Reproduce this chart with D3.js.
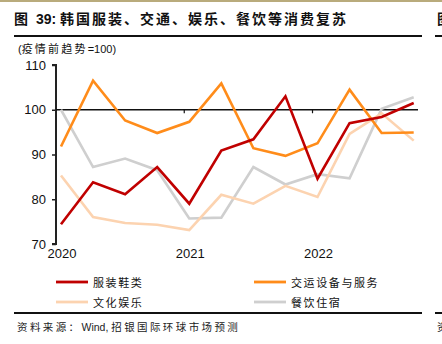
<!DOCTYPE html>
<html>
<head>
<meta charset="utf-8">
<script src="https://cdn.jsdelivr.net/npm/d3@7"></script>
<style>
  html, body { margin: 0; padding: 0; background: #fff; }
  svg { display: block; }
  text { font-family: "Liberation Sans", Arial, "Noto Sans CJK SC", sans-serif; }
</style>
</head>
<body>
<svg id="chart" width="442" height="344"></svg>
<script>
// Quarterly index values, pre-pandemic trend = 100 (2020Q1 .. 2022Q4)
const quarters = ["2020Q1","2020Q2","2020Q3","2020Q4","2021Q1","2021Q2","2021Q3","2021Q4","2022Q1","2022Q2","2022Q3","2022Q4"];
const apparel   = [74.4, 83.8, 81.1, 87.2, 79.0, 90.9, 93.4, 103.0, 84.6, 97.0, 98.4, 101.5];
const transport = [91.8, 106.5, 97.6, 94.8, 97.3, 105.9, 91.4, 89.7, 92.5, 104.5, 94.8, 94.9];
const culture   = [85.3, 76.0, 74.7, 74.3, 73.1, 81.0, 79.0, 83.0, 80.5, 94.6, 99.2, 93.1];
const dining    = [100.0, 87.2, 89.1, 86.5, 75.7, 75.9, 87.2, 83.3, 85.6, 84.7, 100.2, 102.8];
const yTicks = [70, 80, 90, 100, 110];
const yearLabels = ["2020", "2021", "2022"];
const yearStartIdx = [0, 4, 8];

const seriesNames = ["服装鞋类", "交运设备与服务", "文化娱乐", "餐饮住宿"];
const seriesColors = ["#c00000", "#ff8c1a", "#fcd3b0", "#cfcfcf"];
const seriesData = [apparel, transport, culture, dining];

const svg = d3.select("#chart");

// Writes a run of text pieces; CJK pieces get extra tracking, Latin pieces none
function spacedText(sel, parts, spacing) {
  parts.forEach(p => {
    sel.append("tspan").attr("letter-spacing", p.cjk ? spacing : 0).text(p.t);
  });
  return sel;
}

// Header band
svg.append("rect").attr("x", 0).attr("y", 0).attr("width", 442).attr("height", 2).attr("fill", "#b9ab7c");
spacedText(svg.append("text").attr("x", 14).attr("y", 24)
  .attr("font-size", 14).attr("font-weight", "bold").attr("fill", "#111"),
  [{t: "图 ", cjk: true}, {t: "39: ", cjk: false}, {t: "韩国服装、交通、娱乐、餐饮等消费复苏", cjk: true}], 2);
svg.append("rect").attr("x", 14).attr("y", 35).attr("width", 408).attr("height", 2).attr("fill", "#111");
svg.append("rect").attr("x", 435).attr("y", 35).attr("width", 7).attr("height", 2).attr("fill", "#111");
svg.append("text").attr("x", 437).attr("y", 24)
  .attr("font-size", 14).attr("font-weight", "bold").attr("fill", "#111").text("图");
spacedText(svg.append("text").attr("x", 18).attr("y", 53).attr("font-size", 11).attr("fill", "#111"),
  [{t: "(", cjk: false}, {t: "疫情前趋势", cjk: true}, {t: "=100)", cjk: false}], 2.2);

// Scales
const x = d3.scaleLinear().domain([0, 11]).range([61, 413.7]);
const y = d3.scaleLinear().domain([70, 110]).range([244, 65]);

// Y axis
const yAxis = d3.axisLeft(y).tickValues(yTicks).tickSize(4).tickPadding(6);
const gy = svg.append("g").attr("transform", "translate(56,0)").call(yAxis);
gy.select(".domain").attr("stroke", "#222").attr("stroke-width", 2).attr("d", `M-4,${y(110)}H0V${y(70)}H-4`);
gy.selectAll(".tick line").attr("stroke", "#222").attr("stroke-width", 1.5);
gy.selectAll(".tick text").attr("font-size", 13).attr("fill", "#111");

// Baseline at 100 with year ticks
svg.append("line").attr("x1", 56).attr("x2", 418).attr("y1", y(100)).attr("y2", y(100))
  .attr("stroke", "#111").attr("stroke-width", 1.5);
svg.selectAll(".ytick100").data(yearStartIdx.slice(1)).enter().append("line")
  .attr("x1", d => x(d) - 5).attr("x2", d => x(d) - 5)
  .attr("y1", y(100)).attr("y2", y(100) + 3.5)
  .attr("stroke", "#111").attr("stroke-width", 1.2);

// Year labels
svg.selectAll(".yearLabel").data(yearLabels).enter().append("text")
  .attr("x", (d, i) => x(yearStartIdx[i]) + 1).attr("y", 258)
  .attr("text-anchor", "middle").attr("font-size", 13).attr("fill", "#111")
  .text(d => d);

// Lines (light ones first so darker lines sit on top)
const line = d3.line().x((d, i) => x(i)).y(d => y(d));
const order = [3, 2, 1, 0];
order.forEach(k => {
  svg.append("path").datum(seriesData[k]).attr("d", line)
    .attr("fill", "none").attr("stroke", seriesColors[k]).attr("stroke-width", 2.6)
    .attr("stroke-linejoin", "miter");
});

// Legend
const legendPos = [[56, 282], [254, 282], [56, 302], [254, 302]];
seriesNames.forEach((name, k) => {
  const [lx, ly] = legendPos[k];
  svg.append("line").attr("x1", lx).attr("x2", lx + 32).attr("y1", ly).attr("y2", ly)
    .attr("stroke", seriesColors[k]).attr("stroke-width", 2.8);
  svg.append("text").attr("x", lx + 37).attr("y", ly + 4.5)
    .attr("font-size", 11).attr("fill", "#111").attr("letter-spacing", 1.6).text(name);
});

// Footer
svg.append("rect").attr("x", 14).attr("y", 312).attr("width", 408).attr("height", 2).attr("fill", "#111");
svg.append("rect").attr("x", 435).attr("y", 312).attr("width", 7).attr("height", 2).attr("fill", "#111");
spacedText(svg.append("text").attr("x", 17).attr("y", 331).attr("font-size", 10.5).attr("fill", "#222"),
  [{t: "资料来源：", cjk: true}, {t: "Wind, ", cjk: false}, {t: "招银国际环球市场预测", cjk: true}], 2.4);
svg.append("text").attr("x", 437).attr("y", 331)
  .attr("font-size", 10.5).attr("fill", "#222").text("资");
</script>
</body>
</html>
